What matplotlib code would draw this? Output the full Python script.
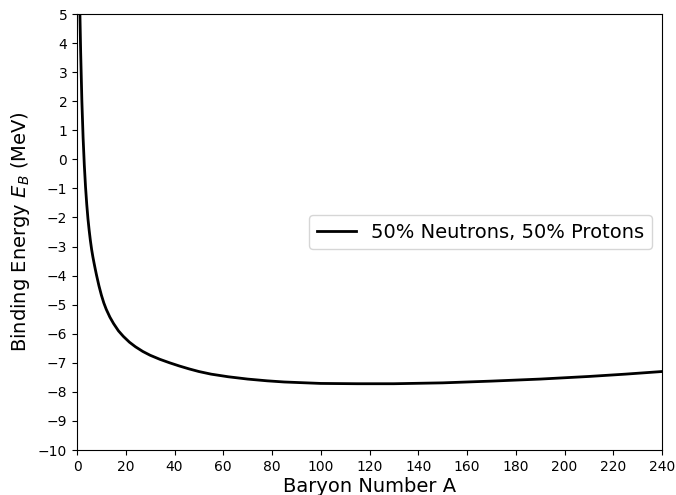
import matplotlib
matplotlib.use('Agg')
import matplotlib.pyplot as plt

# binding energy per nucleon, N = Z
baryon_number = [1.0, 1.2, 1.5, 2.0, 2.5, 3.0, 3.5, 4.0, 4.5, 5.0, 5.5, 6.0, 6.5, 7.0, 7.5,
                 8, 9, 10, 11, 12, 13.5, 15, 17, 19, 21.5, 24, 27, 30, 34, 38, 42, 46, 50,
                 55, 62, 70, 78, 85, 100, 115, 130, 150, 170, 190, 210, 225, 240]
binding_energy = [6.0, 5.0, 3.7, 2.0, 0.75, -0.2, -0.95, -1.55, -2.05, -2.45, -2.8, -3.1, -3.35, -3.57, -3.78,
                  -3.98, -4.35, -4.67, -4.94, -5.16, -5.43, -5.65, -5.9, -6.09, -6.29, -6.45, -6.61, -6.74, -6.88, -7.0, -7.11, -7.21, -7.3,
                  -7.39, -7.48, -7.56, -7.62, -7.66, -7.71, -7.72, -7.72, -7.69, -7.63, -7.56, -7.47, -7.39, -7.30]

x_ticks = list(range(0, 241, 20))
y_ticks = list(range(-10, 6))

fig = plt.figure(figsize=(6.76, 4.95), dpi=100)
ax = fig.add_axes([77 / 676, 45 / 495, 585 / 676, 436 / 495])
ax.plot(baryon_number, binding_energy, color='black', linewidth=2, label='50% Neutrons, 50% Protons')
ax.set_xlim(0, 240)
ax.set_ylim(-10, 5)
ax.set_xticks(x_ticks)
ax.set_yticks(y_ticks)
ax.tick_params(labelsize=10)
ax.set_xlabel('Baryon Number A', fontsize=14, labelpad=2)
ax.set_ylabel('Binding Energy $E_B$ (MeV)', fontsize=14)
ax.legend(loc='center right', fontsize=14)

fig.savefig('out.png', dpi=100)
